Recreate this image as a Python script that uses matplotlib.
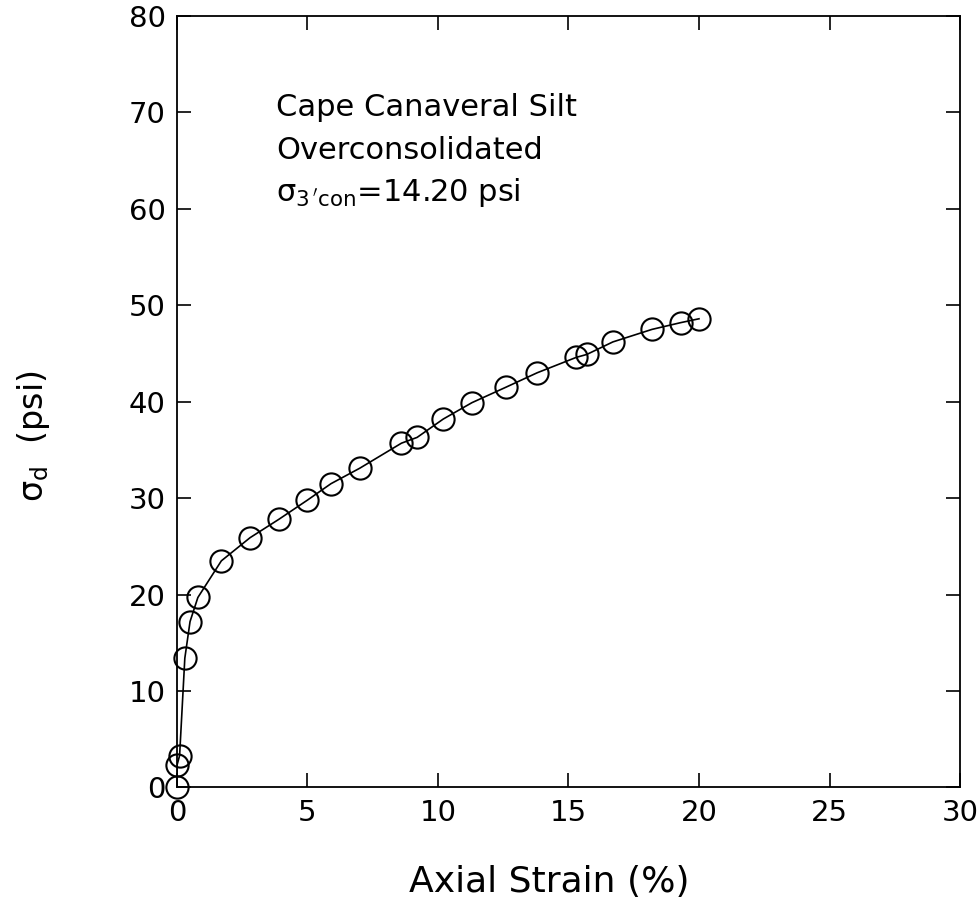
#Stress-strain curve, Cape Canaveral silt, overconsolidated
import matplotlib
matplotlib.use('Agg')
import matplotlib.pyplot as plt

plt.rcParams['font.family'] = ['DejaVu Sans']
plt.rcParams['mathtext.fontset'] = 'dejavusans'

#data
strain = [0.0, 0.0, 0.1, 0.3, 0.5, 0.8, 1.7, 2.8, 3.9, 5.0, 5.9, 7.0, 8.6, 9.2,
          10.2, 11.3, 12.6, 13.8, 15.3, 15.7, 16.7, 18.2, 19.3, 20.0]
sigd = [0.0, 2.3, 3.3, 13.4, 17.2, 19.7, 23.5, 25.9, 27.8, 29.8, 31.5, 33.1, 35.7, 36.3,
        38.2, 39.9, 41.5, 43.0, 44.6, 44.9, 46.2, 47.5, 48.2, 48.6]
xticks = [0, 5, 10, 15, 20, 25, 30]
yticks = [0, 10, 20, 30, 40, 50, 60, 70, 80]

fig = plt.figure(figsize=(9.8, 9.07), dpi=100)
ax = fig.add_axes([0.1806, 0.1318, 0.799, 0.8506])

ax.plot(strain, sigd, '-', color='black', lw=1.2)
ax.plot(strain, sigd, 'o', mfc='none', mec='black', ms=16, mew=1.5, clip_on=False)

ax.set_xlim(0, 30)
ax.set_ylim(0, 80)
ax.set_xticks(xticks)
ax.set_yticks(yticks)
ax.tick_params(direction='in', length=10, width=1.2, top=True, right=True,
               labelsize=21, pad=8)
for s in ax.spines.values():
    s.set_linewidth(1.3)

ax.set_xlabel('Axial Strain (%)', fontsize=26)
ax.xaxis.set_label_coords(0.476, -0.1)
ax.set_ylabel(r'σ$_\mathrm{d}$  (psi)', fontsize=24)
ax.yaxis.set_label_coords(-0.16, 0.455)

ax.text(3.8, 69.6, 'Cape Canaveral Silt', fontsize=22, va='baseline')
ax.text(3.8, 65.2, 'Overconsolidated', fontsize=22, va='baseline')
ax.text(3.8, 60.8, r"σ$_{3\,'\mathrm{con}}$=14.20 psi", fontsize=22, va='baseline')

fig.savefig('out.png', dpi=100)
